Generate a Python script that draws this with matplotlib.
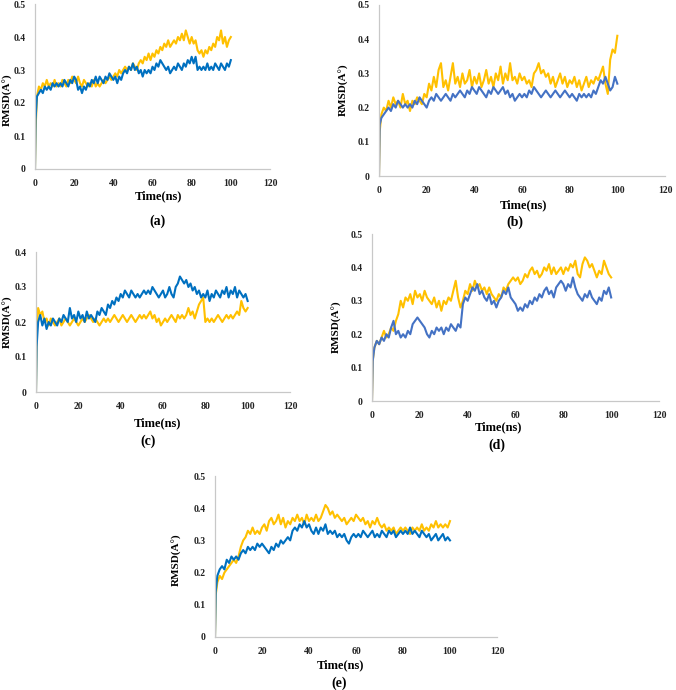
import numpy as np
import matplotlib
matplotlib.use("Agg")
import matplotlib.pyplot as plt

# ---------------- data ----------------
time_ns = np.concatenate([[0, 0.3], np.arange(1, 101)])

a_yellow = [0, 0.12,
    0.22, 0.25, 0.24, 0.26, 0.25, 0.27, 0.25, 0.26, 0.25, 0.27,
    0.25, 0.26, 0.25, 0.27, 0.26, 0.25, 0.27, 0.26, 0.28, 0.27,
    0.26, 0.28, 0.26, 0.25, 0.27, 0.26, 0.25, 0.26, 0.25, 0.27,
    0.25, 0.26, 0.25, 0.26, 0.27, 0.26, 0.27, 0.28, 0.27, 0.28,
    0.29, 0.28, 0.30, 0.29, 0.30, 0.31, 0.30, 0.31, 0.30, 0.32,
    0.31, 0.30, 0.32, 0.33, 0.32, 0.34, 0.33, 0.35, 0.33, 0.35,
    0.34, 0.36, 0.35, 0.37, 0.36, 0.38, 0.37, 0.39, 0.37, 0.38,
    0.39, 0.38, 0.40, 0.39, 0.41, 0.39, 0.42, 0.40, 0.38, 0.40,
    0.38, 0.39, 0.36, 0.35, 0.36, 0.34, 0.36, 0.35, 0.37, 0.36,
    0.38, 0.37, 0.40, 0.39, 0.42, 0.38, 0.40, 0.37, 0.39, 0.40]
a_blue = [0, 0.15,
    0.22, 0.23, 0.24, 0.23, 0.25, 0.24, 0.25, 0.24, 0.26, 0.25,
    0.26, 0.25, 0.26, 0.25, 0.27, 0.26, 0.25, 0.27, 0.26, 0.28,
    0.27, 0.24, 0.25, 0.23, 0.25, 0.24, 0.26, 0.25, 0.27, 0.26,
    0.28, 0.26, 0.28, 0.27, 0.26, 0.28, 0.27, 0.29, 0.28, 0.27,
    0.28, 0.26, 0.28, 0.27, 0.29, 0.30, 0.29, 0.31, 0.30, 0.32,
    0.30, 0.31, 0.29, 0.30, 0.28, 0.30, 0.29, 0.30, 0.29, 0.31,
    0.30, 0.32, 0.31, 0.33, 0.32, 0.31, 0.30, 0.31, 0.29, 0.30,
    0.31, 0.30, 0.32, 0.31, 0.30, 0.32, 0.31, 0.33, 0.32, 0.34,
    0.32, 0.34, 0.30, 0.31, 0.30, 0.31, 0.30, 0.32, 0.30, 0.31,
    0.30, 0.32, 0.31, 0.30, 0.32, 0.31, 0.30, 0.32, 0.31, 0.33]

b_yellow = [0, 0.13,
    0.18, 0.20, 0.19, 0.22, 0.20, 0.23, 0.21, 0.22, 0.20, 0.24,
    0.21, 0.22, 0.19, 0.22, 0.21, 0.23, 0.22, 0.21, 0.24, 0.23,
    0.27, 0.25, 0.29, 0.26, 0.31, 0.33, 0.26, 0.28, 0.25, 0.29,
    0.33, 0.27, 0.29, 0.26, 0.30, 0.27, 0.28, 0.31, 0.26, 0.29,
    0.27, 0.30, 0.26, 0.28, 0.31, 0.27, 0.29, 0.26, 0.30, 0.28,
    0.32, 0.27, 0.30, 0.28, 0.33, 0.28, 0.29, 0.27, 0.30, 0.28,
    0.29, 0.27, 0.28, 0.26, 0.30, 0.31, 0.33, 0.30, 0.31, 0.29,
    0.30, 0.27, 0.29, 0.26, 0.28, 0.30, 0.27, 0.29, 0.26, 0.28,
    0.27, 0.29, 0.26, 0.28, 0.25, 0.27, 0.29, 0.26, 0.28, 0.27,
    0.29, 0.28, 0.30, 0.32, 0.27, 0.24, 0.34, 0.37, 0.36, 0.41]
b_blue = [0, 0.15,
    0.17, 0.18, 0.19, 0.20, 0.19, 0.21, 0.20, 0.22, 0.21, 0.20,
    0.21, 0.20, 0.21, 0.20, 0.22, 0.21, 0.23, 0.22, 0.21, 0.20,
    0.22, 0.23, 0.22, 0.24, 0.23, 0.22, 0.23, 0.24, 0.23, 0.22,
    0.24, 0.23, 0.24, 0.25, 0.24, 0.23, 0.25, 0.24, 0.26, 0.25,
    0.24, 0.26, 0.25, 0.24, 0.23, 0.25, 0.24, 0.26, 0.25, 0.24,
    0.25, 0.26, 0.24, 0.25, 0.23, 0.24, 0.22, 0.23, 0.24, 0.23,
    0.24, 0.23, 0.25, 0.24, 0.26, 0.25, 0.24, 0.23, 0.24, 0.25,
    0.24, 0.23, 0.24, 0.25, 0.24, 0.23, 0.24, 0.25, 0.24, 0.23,
    0.24, 0.23, 0.22, 0.24, 0.23, 0.24, 0.23, 0.24, 0.23, 0.25,
    0.24, 0.26, 0.28, 0.27, 0.29, 0.27, 0.25, 0.26, 0.29, 0.27]

c_yellow = [0, 0.16,
    0.24, 0.22, 0.23, 0.20, 0.21, 0.19, 0.21, 0.20, 0.19, 0.20,
    0.21, 0.19, 0.20, 0.21, 0.20, 0.19, 0.20, 0.21, 0.20, 0.19,
    0.20, 0.21, 0.20, 0.21, 0.22, 0.21, 0.20, 0.21, 0.20, 0.19,
    0.20, 0.21, 0.20, 0.21, 0.20, 0.21, 0.22, 0.21, 0.20, 0.21,
    0.22, 0.21, 0.20, 0.21, 0.22, 0.21, 0.20, 0.21, 0.22, 0.21,
    0.22, 0.21, 0.22, 0.23, 0.21, 0.22, 0.20, 0.21, 0.19, 0.20,
    0.21, 0.20, 0.21, 0.22, 0.21, 0.20, 0.22, 0.21, 0.22, 0.21,
    0.22, 0.24, 0.22, 0.23, 0.21, 0.23, 0.25, 0.26, 0.27, 0.20,
    0.21, 0.20, 0.21, 0.20, 0.21, 0.22, 0.21, 0.20, 0.21, 0.22,
    0.21, 0.22, 0.21, 0.22, 0.23, 0.22, 0.26, 0.24, 0.23, 0.24]
c_blue = [0, 0.13,
    0.20, 0.22, 0.19, 0.21, 0.18, 0.20, 0.19, 0.21, 0.20, 0.19,
    0.21, 0.20, 0.22, 0.21, 0.20, 0.24, 0.21, 0.22, 0.20, 0.23,
    0.21, 0.22, 0.20, 0.23, 0.21, 0.22, 0.21, 0.20, 0.23, 0.22,
    0.24, 0.23, 0.22, 0.25, 0.24, 0.26, 0.25, 0.27, 0.26, 0.28,
    0.27, 0.29, 0.28, 0.27, 0.29, 0.28, 0.27, 0.28, 0.27, 0.28,
    0.29, 0.28, 0.29, 0.28, 0.30, 0.29, 0.28, 0.27, 0.28, 0.29,
    0.27, 0.28, 0.30, 0.28, 0.27, 0.30, 0.31, 0.33, 0.32, 0.31,
    0.32, 0.30, 0.31, 0.29, 0.30, 0.28, 0.29, 0.27, 0.28, 0.27,
    0.29, 0.26, 0.28, 0.27, 0.29, 0.28, 0.27, 0.29, 0.28, 0.30,
    0.27, 0.29, 0.28, 0.30, 0.27, 0.29, 0.28, 0.27, 0.28, 0.26]

d_yellow = [0, 0.12,
    0.16, 0.18, 0.17, 0.19, 0.21, 0.19, 0.20, 0.22, 0.21, 0.24,
    0.26, 0.30, 0.28, 0.31, 0.30, 0.32, 0.29, 0.33, 0.31, 0.32,
    0.30, 0.33, 0.31, 0.30, 0.29, 0.31, 0.28, 0.30, 0.27, 0.30,
    0.29, 0.31, 0.30, 0.33, 0.36, 0.31, 0.28, 0.30, 0.33, 0.32,
    0.35, 0.33, 0.36, 0.34, 0.35, 0.33, 0.34, 0.32, 0.34, 0.32,
    0.31, 0.30, 0.32, 0.31, 0.34, 0.33, 0.35, 0.36, 0.37, 0.36,
    0.37, 0.35, 0.36, 0.38, 0.37, 0.39, 0.40, 0.38, 0.39, 0.37,
    0.38, 0.40, 0.39, 0.41, 0.38, 0.40, 0.38, 0.39, 0.40, 0.38,
    0.40, 0.39, 0.41, 0.40, 0.42, 0.38, 0.37, 0.41, 0.43, 0.42,
    0.40, 0.41, 0.39, 0.37, 0.39, 0.38, 0.42, 0.40, 0.38, 0.37]
d_blue = [0, 0.12,
    0.16, 0.18, 0.17, 0.19, 0.18, 0.20, 0.19, 0.22, 0.24, 0.20,
    0.21, 0.19, 0.20, 0.19, 0.21, 0.20, 0.23, 0.24, 0.25, 0.24,
    0.23, 0.22, 0.20, 0.19, 0.21, 0.20, 0.22, 0.21, 0.22, 0.20,
    0.22, 0.21, 0.23, 0.22, 0.21, 0.23, 0.22, 0.29, 0.31, 0.30,
    0.32, 0.34, 0.33, 0.35, 0.32, 0.33, 0.31, 0.30, 0.32, 0.29,
    0.30, 0.28, 0.30, 0.31, 0.33, 0.32, 0.34, 0.31, 0.30, 0.29,
    0.27, 0.28, 0.27, 0.29, 0.28, 0.30, 0.29, 0.31, 0.30, 0.32,
    0.31, 0.33, 0.34, 0.32, 0.33, 0.31, 0.34, 0.35, 0.36, 0.35,
    0.33, 0.35, 0.34, 0.37, 0.34, 0.32, 0.31, 0.30, 0.32, 0.31,
    0.33, 0.31, 0.30, 0.29, 0.31, 0.30, 0.33, 0.32, 0.34, 0.31]

e_yellow = [0, 0.13,
    0.17, 0.19, 0.18, 0.20, 0.21, 0.22, 0.23, 0.24, 0.23, 0.25,
    0.28, 0.30, 0.31, 0.33, 0.32, 0.34, 0.32, 0.33, 0.32, 0.34,
    0.35, 0.33, 0.36, 0.37, 0.35, 0.36, 0.38, 0.35, 0.37, 0.34,
    0.36, 0.35, 0.37, 0.36, 0.38, 0.36, 0.37, 0.35, 0.38, 0.36,
    0.37, 0.36, 0.38, 0.36, 0.37, 0.39, 0.41, 0.40, 0.38, 0.39,
    0.37, 0.38, 0.37, 0.36, 0.37, 0.35, 0.36, 0.37, 0.36, 0.38,
    0.37, 0.36, 0.37, 0.35, 0.36, 0.34, 0.36, 0.35, 0.37, 0.35,
    0.34, 0.35, 0.33, 0.34, 0.33, 0.34, 0.32, 0.33, 0.34, 0.33,
    0.34, 0.33, 0.32, 0.34, 0.33, 0.34, 0.33, 0.35, 0.33, 0.34,
    0.33, 0.35, 0.34, 0.36, 0.34, 0.35, 0.34, 0.35, 0.34, 0.36]
e_blue = [0, 0.14,
    0.19, 0.21, 0.22, 0.21, 0.24, 0.23, 0.25, 0.24, 0.25, 0.24,
    0.26, 0.27, 0.26, 0.28, 0.27, 0.28, 0.27, 0.29, 0.28, 0.29,
    0.28, 0.27, 0.26, 0.28, 0.27, 0.29, 0.28, 0.30, 0.29, 0.30,
    0.31, 0.30, 0.33, 0.34, 0.33, 0.35, 0.34, 0.36, 0.34, 0.35,
    0.33, 0.32, 0.34, 0.32, 0.34, 0.33, 0.35, 0.32, 0.33, 0.32,
    0.33, 0.31, 0.32, 0.31, 0.32, 0.30, 0.29, 0.31, 0.32, 0.31,
    0.32, 0.31, 0.33, 0.32, 0.31, 0.32, 0.33, 0.31, 0.32, 0.31,
    0.33, 0.32, 0.31, 0.33, 0.32, 0.33, 0.31, 0.32, 0.33, 0.32,
    0.33, 0.32, 0.34, 0.32, 0.33, 0.32, 0.31, 0.33, 0.32, 0.31,
    0.32, 0.30, 0.31, 0.32, 0.30, 0.31, 0.32, 0.30, 0.31, 0.30]

x_ticks = [0, 20, 40, 60, 80, 100, 120]
panel_labels = ["(a)", "(b)", "(c)", "(d)", "(e)"]
x_label = "Time(ns)"
y_label = "RMSD(A\u00b0)"

# ---------------- layout ----------------
W, H = 676, 690
fig = plt.figure(figsize=(W / 100, H / 100), dpi=100)
fig.patch.set_facecolor("white")

YELLOW = "#FFC000"
BLUE1 = "#0070C0"
BLUE2 = "#4472C4"
SPINE = "#C8C8C8"
SERIF = ["Liberation Serif", "DejaVu Serif"]


def px_axes(l, r, t, b):
    return fig.add_axes([l / W, 1 - b / H, (r - l) / W, (b - t) / H])


def ftext(x, y, s, **kw):
    fig.text(x / W, 1 - y / H, s, ha="center", va="center",
             family=SERIF, fontweight="bold", **kw)


panels = [
    # box (l, r, t, b), ymax, yellow, blue, blue colour, xlabel pos, panel label pos, ylabel pos
    ((35, 270, 4, 169), 0.5, a_yellow, a_blue, BLUE1, (158, 196), (157, 221), (8, 100)),
    ((379, 665, 5, 176), 0.5, b_yellow, b_blue, BLUE2, (523, 205), (515, 222), (344, 90)),
    ((36, 290, 252, 392), 0.4, c_yellow, c_blue, BLUE1, (157, 423), (148, 441), (8, 322)),
    ((372, 659, 234, 401), 0.5, d_yellow, d_blue, BLUE2, (498, 427), (497, 445), (337, 327)),
    ((215, 497, 476, 637), 0.5, e_yellow, e_blue, BLUE1, (340, 665), (339, 683), (177, 560)),
]

for i, (box, ymax, yel, blu, bcol, xlp, plp, ylp) in enumerate(panels):
    ax = px_axes(*box)
    ax.plot(time_ns, yel, color=YELLOW, lw=1.5)
    ax.plot(time_ns, blu, color=bcol, lw=1.5)
    ax.set_xlim(0, 120)
    ax.set_ylim(0, ymax)
    ax.set_xticks(x_ticks)
    yt = np.round(np.arange(0, ymax + 0.001, 0.1), 1)
    ax.set_yticks(yt)
    ax.set_yticklabels(["0"] + [f"{v:.1f}" for v in yt[1:]])
    ax.set_xticklabels([str(v) for v in x_ticks])
    for s in ["top", "right"]:
        ax.spines[s].set_visible(False)
    for s in ["left", "bottom"]:
        ax.spines[s].set_color(SPINE)
        ax.spines[s].set_linewidth(0.9)
    ax.tick_params(length=0, pad=7, labelsize=7, labelcolor="#222222")
    for lab in ax.get_xticklabels() + ax.get_yticklabels():
        lab.set_family(SERIF)
        lab.set_fontweight("bold")
    ax.patch.set_alpha(0)
    ftext(xlp[0], xlp[1], x_label, fontsize=9)
    ftext(plp[0], plp[1], panel_labels[i], fontsize=10)
    ftext(ylp[0], ylp[1], y_label, fontsize=8, rotation=90)

fig.savefig("out.png", dpi=100, facecolor="white")
